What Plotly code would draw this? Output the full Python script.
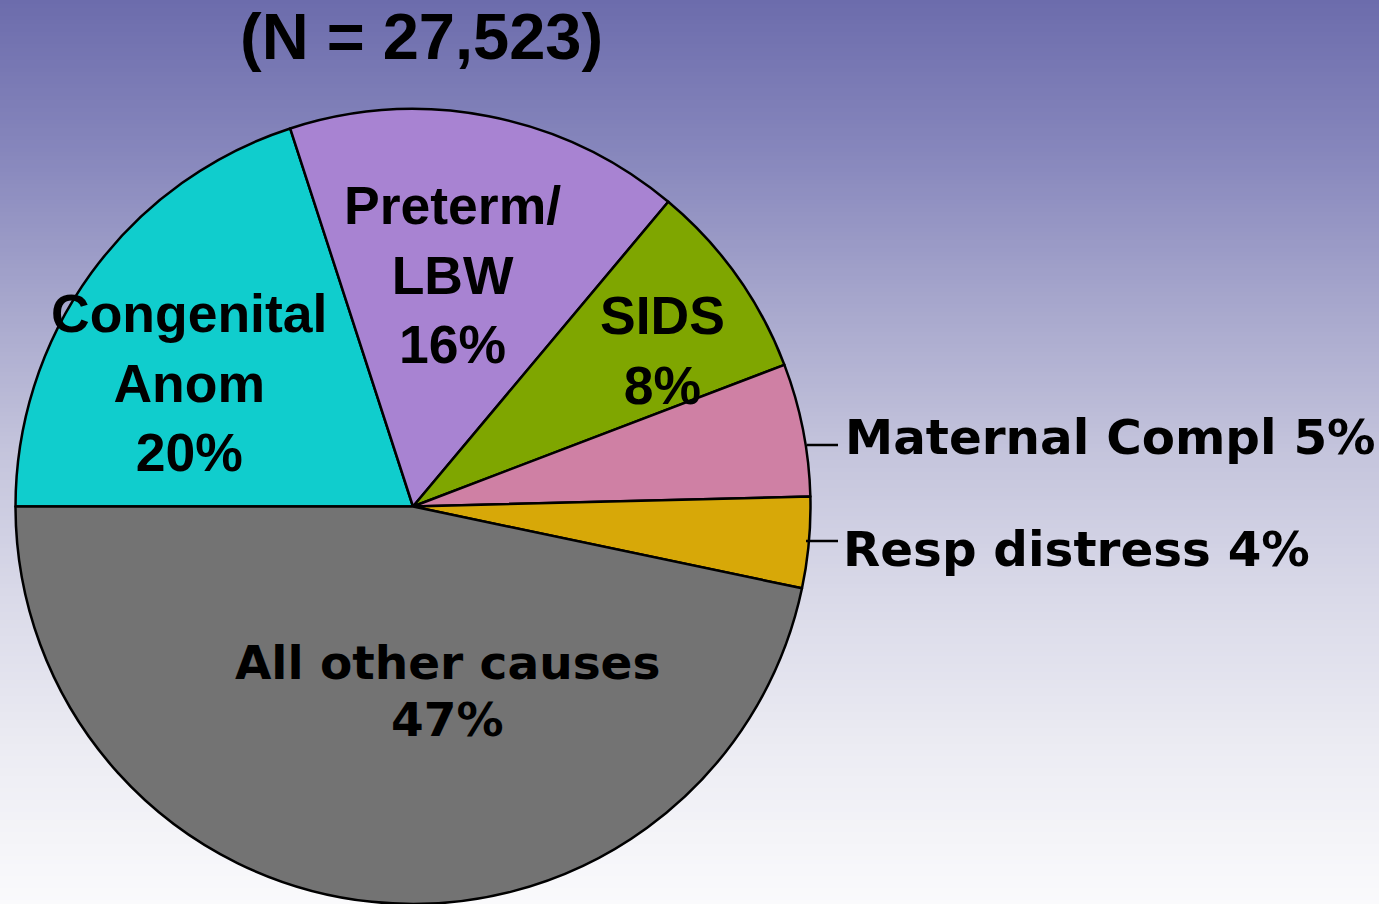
import plotly.graph_objects as go

# ---- data ----
categories = ["Congenital Anom", "Preterm/LBW", "SIDS", "Maternal Compl", "Resp distress", "All other causes"]
label_text = ["Congenital<br>Anom", "Preterm/<br>LBW", "SIDS", "Maternal Compl", "Resp distress", "All other causes"]
slice_values = [20.0, 16.1, 8.1, 5.4, 3.7, 46.7]      # slice sizes
pct_labels = [20, 16, 8, 5, 4, 47]                    # percentages printed on the chart
title_text = "(N = 27,523)"

# ---- styles ----
W, H = 1379, 904
slice_colors = ["#10CDCD", "#A883D2", "#7FA600", "#CF80A4", "#D7A808", "#737373"]

def px(x):
    return x / W

def py(y):
    return 1 - y / H

fig = go.Figure()
fig.add_trace(go.Pie(
    labels=categories,
    values=slice_values,
    sort=False,
    direction="clockwise",
    rotation=-90,
    marker=dict(colors=slice_colors, line=dict(color="#000000", width=2.5)),
    textinfo="none",
    hoverinfo="label+percent",
    showlegend=False,
    domain=dict(x=[px(15), px(811)], y=[0, 1 - 109 / H]),
))

# background vertical gradient made of thin bands
stops = [(0, (108, 108, 172)), (150, (134, 134, 188)), (300, (166, 166, 204)),
         (450, (196, 196, 220)), (600, (218, 218, 233)), (750, (236, 236, 243)), (904, (250, 250, 252))]

def bg_color(y):
    for (y0, c0), (y1, c1) in zip(stops[:-1], stops[1:]):
        if y0 <= y <= y1:
            t = (y - y0) / (y1 - y0)
            return "rgb(%d,%d,%d)" % tuple(round(a + (b - a) * t) for a, b in zip(c0, c1))
    return "rgb(250,250,252)"

shapes = []
band = 4
for y in range(0, H, band):
    shapes.append(dict(type="rect", xref="paper", yref="paper", x0=0, x1=1,
                       y0=py(y + band), y1=py(y), fillcolor=bg_color(y + band / 2),
                       line=dict(width=0), layer="below"))

# leader lines for the outside labels
shapes.append(dict(type="line", xref="paper", yref="paper", x0=px(807), x1=px(838),
                   y0=py(445), y1=py(445), line=dict(color="#000000", width=2.5)))
shapes.append(dict(type="line", xref="paper", yref="paper", x0=px(806), x1=px(838),
                   y0=py(541), y1=py(541), line=dict(color="#000000", width=2.5)))

arial = "Liberation Sans, Arial, sans-serif"
verd = "DejaVu Sans, Verdana, sans-serif"

annotations = []
# title
annotations.append(dict(text="<b>%s</b>" % title_text, x=px(421.5), y=py(37), xref="paper", yref="paper",
                        showarrow=False, xanchor="center", yanchor="middle",
                        font=dict(family=arial, size=65, color="#000000")))

# inside labels (multi-line, Arial bold)
inside_pos = {0: (189, 383), 1: (452, 275), 2: (662, 350)}
for i, (x, y) in inside_pos.items():
    annotations.append(dict(text="<b>%s<br>%d%%</b>" % (label_text[i], pct_labels[i]),
                            x=px(x), y=py(y), xref="paper", yref="paper", showarrow=False,
                            xanchor="center", yanchor="middle",
                            font=dict(family=arial, size=53.5, color="#000000")))

# all other causes (DejaVu bold), two lines
annotations.append(dict(text="<b>%s</b>" % label_text[5], x=px(448), y=py(662), xref="paper", yref="paper",
                        showarrow=False, xanchor="center", yanchor="middle",
                        font=dict(family=verd, size=47, color="#000000")))
annotations.append(dict(text="<b>%d%%</b>" % pct_labels[5], x=px(448), y=py(719), xref="paper", yref="paper",
                        showarrow=False, xanchor="center", yanchor="middle",
                        font=dict(family=verd, size=47, color="#000000")))

# outside labels
outside_pos = {3: (843, 437), 4: (841, 549)}
for i, (x, y) in outside_pos.items():
    annotations.append(dict(text="<b>%s %d%%</b>" % (label_text[i], pct_labels[i]),
                            x=px(x), y=py(y), xref="paper", yref="paper", showarrow=False,
                            xanchor="left", yanchor="middle",
                            font=dict(family=verd, size=48.4, color="#000000")))

fig.update_layout(
    width=W, height=H,
    margin=dict(l=0, r=0, t=0, b=0),
    paper_bgcolor="rgb(250,250,252)",
    plot_bgcolor="rgba(0,0,0,0)",
    shapes=shapes,
    annotations=annotations,
)

fig.write_html("out.html", config={"displayModeBar": False},
               post_script="document.body.style.margin='0px';document.body.style.overflow='hidden';")
